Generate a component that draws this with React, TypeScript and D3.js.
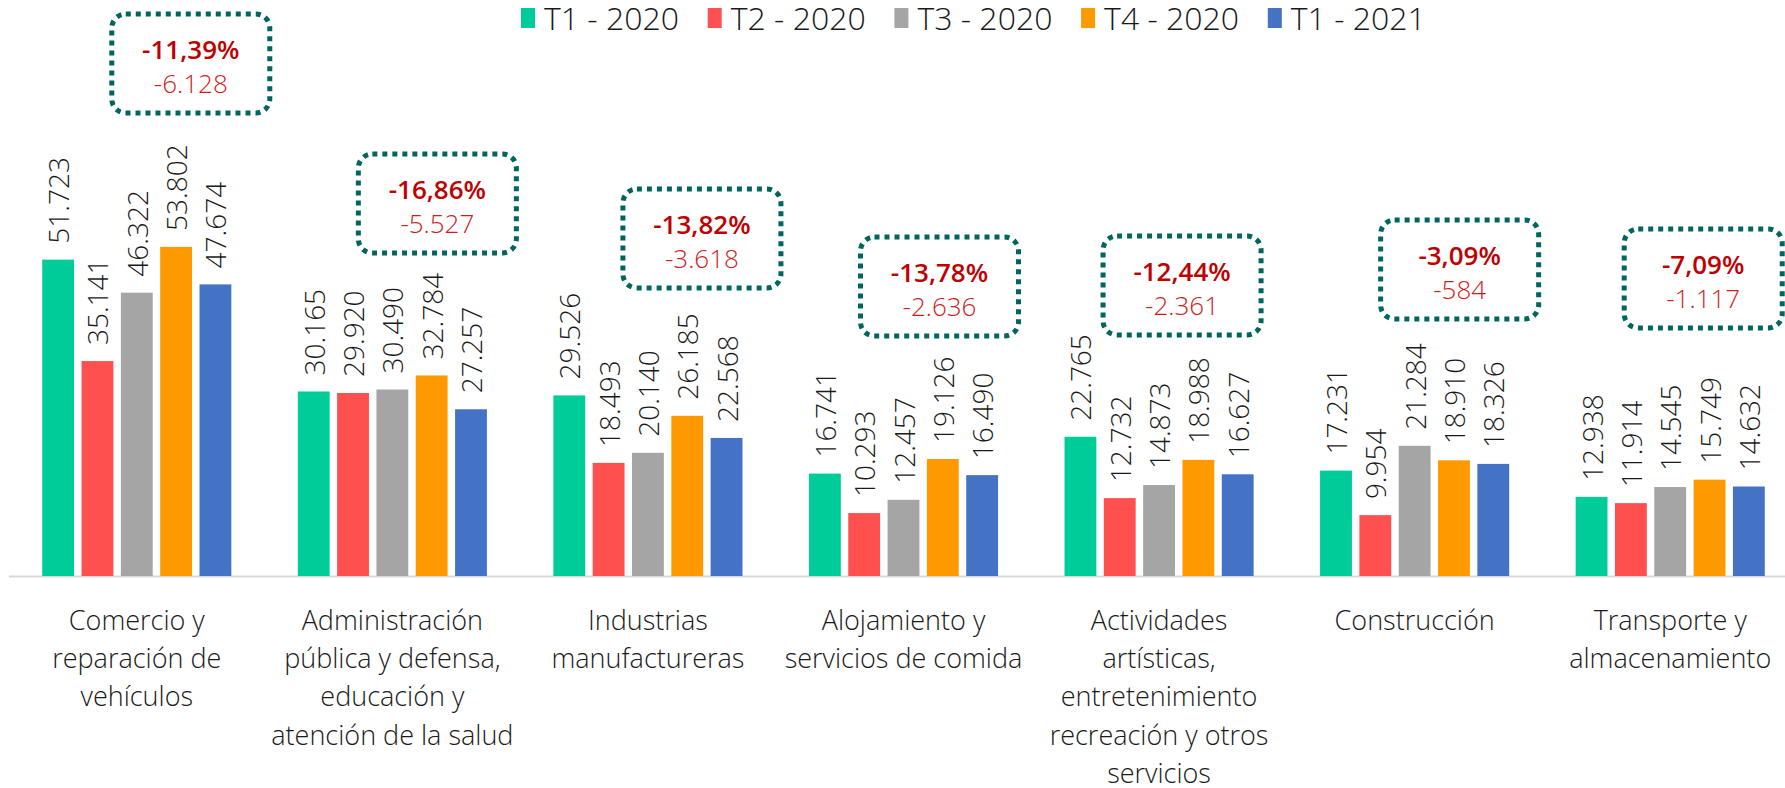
import { scaleBand, scaleLinear, scaleOrdinal } from "d3";

const width = 1785;
const height = 788;

const categories = [
  ["Comercio y", "reparación de", "vehículos"],
  ["Administración", "pública y defensa,", "educación y", "atención de la salud"],
  ["Industrias", "manufactureras"],
  ["Alojamiento y", "servicios de comida"],
  ["Actividades", "artísticas,", "entretenimiento", "recreación y otros", "servicios"],
  ["Construcción"],
  ["Transporte y", "almacenamiento"],
];

const series = ["T1 - 2020", "T2 - 2020", "T3 - 2020", "T4 - 2020", "T1 - 2021"];
const colors = ["#00CC99", "#FF5050", "#A5A5A5", "#FF9900", "#4472C4"];

// values per category, one per series
const t1_2020 = [51723, 30165, 29526, 16741, 22765, 17231, 12938];
const t2_2020 = [35141, 29920, 18493, 10293, 12732, 9954, 11914];
const t3_2020 = [46322, 30490, 20140, 12457, 14873, 21284, 14545];
const t4_2020 = [53802, 32784, 26185, 19126, 18988, 18910, 15749];
const t1_2021 = [47674, 27257, 22568, 16490, 16627, 18326, 14632];
const values = [t1_2020, t2_2020, t3_2020, t4_2020, t1_2021];

// callout texts (T1 2021 vs T1 2020)
const changePct = ["-11,39%", "-16,86%", "-13,82%", "-13,78%", "-12,44%", "-3,09%", "-7,09%"];
const changeAbs = ["-6.128", "-5.527", "-3.618", "-2.636", "-2.361", "-584", "-1.117"];

// callout placement: x offset from group centre, top y
const calloutDx = [54, 45, 54, 36, 23, 45, 33];
const calloutTop = [14, 154, 189, 237, 236, 220, 229];

const fmt = (v: number) => {
  const s = String(v);
  return s.length > 3 ? s.slice(0, s.length - 3) + "." + s.slice(-3) : s;
};

const font = "'Open Sans', sans-serif";
const baseY = 576;

const App = () => {
  const x0 = scaleBand<number>()
    .domain(categories.map((_, i) => i))
    .range([9, 1798])
    .paddingInner(0.26)
    .paddingOuter(0.13);

  const x1 = scaleBand<string>()
    .domain(series)
    .range([0, x0.bandwidth()])
    .paddingInner(0.19);

  const y = scaleLinear().domain([0, 60000]).range([baseY, baseY - 367]);

  const color = scaleOrdinal<string, string>().domain(series).range(colors);

  const boxW = 158;
  const boxH = 99;

  return (
    <svg width={width} height={height} style={{ position: "absolute", left: 0, top: 0 }}>
      <rect width={width} height={height} fill="#fff" />

      {/* legend */}
      {series.map((s, i) => (
        <g key={s} transform={`translate(${521 + i * 186.7},0)`}>
          <rect x={0} y={8} width={14} height={20} fill={color(s)} />
          <text x={23} y={30} fontFamily={font} fontWeight={300} fontSize={32} fill="#1a1a1a">
            {s}
          </text>
        </g>
      ))}

      <line x1={9} x2={width} y1={baseY + 0.5} y2={baseY + 0.5} stroke="#D9D9D9" strokeWidth={2} />

      {categories.map((lines, ci) => {
        const gx = x0(ci)!;
        const cx = gx + x0.bandwidth() / 2;
        const bx = cx + calloutDx[ci] - boxW / 2;
        const by = calloutTop[ci];
        return (
          <g key={ci}>
            {series.map((s, si) => {
              const v = values[si][ci];
              const bxx = gx + x1(s)!;
              const mid = bxx + x1.bandwidth() / 2;
              return (
                <g key={s}>
                  <rect x={bxx} y={y(v)} width={x1.bandwidth()} height={baseY - y(v)} fill={color(s)} />
                  <text
                    transform={`translate(${mid},${y(v) - 16}) rotate(-90)`}
                    dominantBaseline="central"
                    fontFamily={font}
                    fontWeight={300}
                    fontSize={28}
                    fill="#1a1a1a"
                  >
                    {fmt(v)}
                  </text>
                </g>
              );
            })}
            {lines.map((l, li) => (
              <text
                key={li}
                x={cx}
                y={630 + li * 38.2}
                textAnchor="middle"
                fontFamily={font}
                fontWeight={300}
                fontSize={27}
                fill="#1a1a1a"
              >
                {l}
              </text>
            ))}
            <rect
              x={bx}
              y={by}
              width={boxW}
              height={boxH}
              rx={14}
              fill="none"
              stroke="#00655F"
              strokeWidth={5}
              strokeDasharray="5 5"
            />
            <text
              x={bx + boxW / 2}
              y={by + 45}
              textAnchor="middle"
              fontFamily={font}
              fontWeight={600}
              fontSize={26}
              fill="#C00000"
            >
              {changePct[ci]}
            </text>
            <text
              x={bx + boxW / 2}
              y={by + 79}
              textAnchor="middle"
              fontFamily={font}
              fontWeight={300}
              fontSize={26}
              fill="#D01C1C"
            >
              {changeAbs[ci]}
            </text>
          </g>
        );
      })}
    </svg>
  );
};

export default App;
